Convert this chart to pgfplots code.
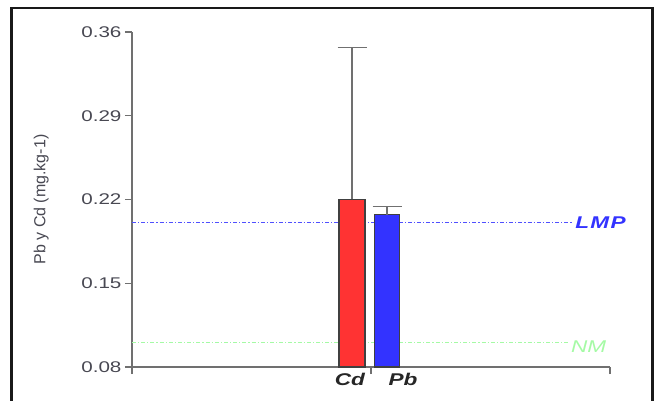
\documentclass[border=0pt]{standalone}
\usepackage{pgfplots}
\pgfplotsset{compat=1.18}
\usepackage{fontspec}
\setmainfont{Liberation Sans}
\newfontfamily\widesans{Liberation Sans}[FakeStretch=1.33]
\definecolor{axgray}{RGB}{112,112,112}
\definecolor{txtgray}{RGB}{72,72,82}
\definecolor{cdred}{RGB}{255,51,51}
\definecolor{pbblue}{RGB}{51,51,255}
\definecolor{lmpblue}{RGB}{80,80,255}
\definecolor{nmgreen}{RGB}{165,250,165}
\definecolor{framec}{RGB}{25,25,25}
\begin{document}
\begin{tikzpicture}[x=1pt,y=1pt]
\useasboundingbox (0,0) rectangle (654,400);
\draw[line width=2.2pt, framec] (11.5,-20) -- (11.5,392) -- (652.5,392) -- (652.5,-20);
\begin{axis}[
  at={(132pt,33pt)}, anchor=south west,
  scale only axis, width=478pt, height=335pt,
  xmin=0, xmax=1, ymin=0.08, ymax=0.36,
  clip mode=individual,
  axis lines=left,
  axis line style={axgray, line width=1.4pt, -},
  ytick={0.08,0.15,0.22,0.29,0.36},
  xtick={0,0.5,1}, xticklabels={},
  tick style={axgray, line width=1.1pt},
  tick align=outside, major tick length=7pt,
  /pgf/number format/assume math mode=true,
  yticklabel style={font=\widesans\fontsize{15.5}{16}\selectfont, text=txtgray,
    /pgf/number format/.cd, fixed, fixed zerofill, precision=2},
  ylabel={Pb y Cd (mg.kg-1)},
  ylabel style={font=\fontsize{16}{17}\selectfont, text=txtgray,
    at={(axis description cs:-0.19,0.5)}, anchor=center},
]
\addplot[lmpblue, line width=0.8pt, dash pattern=on 4pt off 2pt on 1.2pt off 2pt]
  coordinates {(0,0.2012) (0.9205,0.2012)};
\addplot[nmgreen, line width=0.8pt, dash pattern=on 4pt off 2pt on 1.2pt off 2pt]
  coordinates {(0,0.1003) (0.912,0.1003)};
\addplot[ybar, bar width=26pt, bar shift=0pt, fill=cdred, draw=black!75, line width=1.2pt,
  error bars/.cd, y dir=plus, y explicit, error mark=|,
  error bar style={axgray, line width=1.6pt},
  error mark options={axgray, line width=1.6pt, mark size=14.5pt}]
  coordinates {(0.4603,0.2202) +- (0,0.1268)};
\addplot[ybar, bar width=25pt, bar shift=0pt, fill=pbblue, draw=black!75, line width=1.2pt,
  error bars/.cd, y dir=plus, y explicit, error mark=|,
  error bar style={axgray, line width=1.6pt},
  error mark options={axgray, line width=1.6pt, mark size=14.5pt}]
  coordinates {(0.5335,0.2073) +- (0,0.0067)};
\node[anchor=base, inner sep=0pt, yshift=-18pt, text=black!85,
  font=\widesans\fontsize{17}{18}\selectfont\bfseries\itshape] at (axis cs:0.456,0.08) {Cd};
\node[anchor=base, inner sep=0pt, yshift=-18pt, text=black!85,
  font=\widesans\fontsize{17}{18}\selectfont\bfseries\itshape] at (axis cs:0.567,0.08) {Pb};
\node[anchor=west, inner sep=0pt, yshift=-1pt, text=pbblue,
  font=\widesans\fontsize{17}{18}\selectfont\bfseries\itshape\addfontfeature{LetterSpace=8}] at (axis cs:0.927,0.2012) {LMP};
\node[anchor=west, inner sep=0pt, yshift=-4pt, text=nmgreen,
  font=\widesans\fontsize{17}{18}\selectfont\itshape] at (axis cs:0.918,0.1003) {NM};
\end{axis}
\end{tikzpicture}
\end{document}
